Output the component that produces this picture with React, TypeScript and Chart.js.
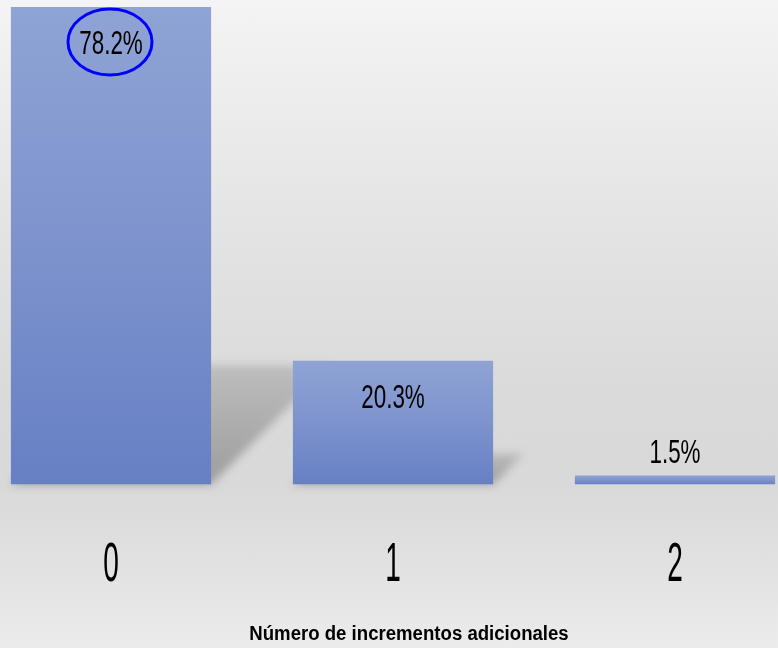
import React, { useEffect, useRef } from "react";
import { Chart, registerables } from "chart.js";

Chart.register(...registerables);

const categories = ["0", "1", "2"];
const percentValues = [78.2, 20.3, 1.5];
const valueLabels = ["78.2%", "20.3%", "1.5%"];
const axisTitle = "Número de incrementos adicionales";
const highlightedIndex = 0;

const FONT = "'Liberation Sans', Arial, sans-serif";

const shadowPlugin = {
  id: "barShadow",
  beforeDatasetsDraw(chart: any) {
    const ctx = chart.ctx;
    const meta = chart.getDatasetMeta(0);
    meta.data.forEach((el: any) => {
      const left = el.x - el.width / 2;
      const right = el.x + el.width / 2;
      const bottom = el.base;
      const h = el.base - el.y;
      const t = h * 0.25;
      if (t < 3) return;
      ctx.save();
      ctx.filter = "blur(4px)";
      const g = ctx.createLinearGradient(0, bottom, 0, bottom - t);
      g.addColorStop(0, "rgba(60,60,60,0.38)");
      g.addColorStop(1, "rgba(60,60,60,0.18)");
      ctx.fillStyle = g;
      ctx.beginPath();
      ctx.moveTo(left, bottom);
      ctx.lineTo(right, bottom);
      ctx.lineTo(right + t, bottom - t);
      ctx.lineTo(left + t, bottom - t);
      ctx.closePath();
      ctx.fill();
      ctx.restore();
    });
  },
};

function drawSquished(ctx: any, text: string, x: number, y: number, font: string, sx: number) {
  ctx.save();
  ctx.translate(x, y);
  ctx.scale(sx, 1);
  ctx.font = font;
  ctx.fillStyle = "#000000";
  ctx.textAlign = "center";
  ctx.textBaseline = "alphabetic";
  ctx.fillText(text, 0, 0);
  ctx.restore();
}

const labelPlugin = {
  id: "valueLabels",
  afterDatasetsDraw(chart: any) {
    const ctx = chart.ctx;
    const meta = chart.getDatasetMeta(0);
    meta.data.forEach((el: any, i: number) => {
      const h = el.base - el.y;
      const baseline = h > 50 ? el.y + 47 : el.y - 12;
      drawSquished(ctx, valueLabels[i], el.x, baseline, `33px ${FONT}`, 0.68);
      if (i === highlightedIndex) {
        ctx.save();
        ctx.strokeStyle = "#0000ff";
        ctx.lineWidth = 3;
        ctx.beginPath();
        ctx.ellipse(el.x - 1, baseline - 12, 42, 33, 0, 0, Math.PI * 2);
        ctx.stroke();
        ctx.restore();
      }
    });
  },
  afterDraw(chart: any) {
    const ctx = chart.ctx;
    const xs = chart.scales.x;
    const area = chart.chartArea;
    xs.ticks.forEach((t: any, i: number) => {
      const x = xs.getPixelForTick(i);
      const label = xs.getLabelForValue(t.value);
      drawSquished(ctx, String(label), x, area.bottom + 96, `56px ${FONT}`, 0.5);
    });
    const cx = (area.left + area.right) / 2 + 16;
    drawSquished(ctx, axisTitle, cx, chart.height - 8, `bold 20px ${FONT}`, 0.93);
  },
};

export default function App() {
  const canvasRef = useRef<HTMLCanvasElement | null>(null);

  useEffect(() => {
    const canvas = canvasRef.current;
    if (!canvas) return;
    const chart = new Chart(canvas, {
      type: "bar",
      data: {
        labels: categories,
        datasets: [
          {
            data: percentValues,
            backgroundColor: (c: any) => {
              const chartObj = c.chart;
              const y = chartObj.scales && chartObj.scales.y;
              if (!chartObj.chartArea || !y || c.raw === undefined) return "#7f94cd";
              const top = y.getPixelForValue(c.raw);
              const bot = y.getPixelForValue(0);
              if (!isFinite(top) || !isFinite(bot) || bot - top < 1) return "#7a90cb";
              const g = chartObj.ctx.createLinearGradient(0, top, 0, bot);
              g.addColorStop(0, "#8fa3d5");
              g.addColorStop(0.5, "#7e93cd");
              g.addColorStop(1, "#6680c4");
              return g;
            },
            borderWidth: 0,
            barPercentage: 0.71,
            categoryPercentage: 1,
          },
        ],
      },
      options: {
        animation: false,
        responsive: true,
        maintainAspectRatio: false,
        layout: { padding: { top: 0, left: 0, right: 0, bottom: 81 } },
        plugins: {
          legend: { display: false },
          tooltip: { enabled: false },
        },
        scales: {
          y: {
            display: false,
            min: 0,
            max: 79.35,
          },
          x: {
            grid: { display: false, drawTicks: false },
            border: { display: false },
            ticks: {
              padding: 10,
              color: "rgba(0,0,0,0)",
              font: { family: FONT, size: 52 },
            },
            title: { display: false },
          },
        },
      },
      plugins: [shadowPlugin, labelPlugin],
    });
    return () => chart.destroy();
  }, []);

  return (
    <div
      style={{
        position: "fixed",
        left: 0,
        top: 0,
        width: 778,
        height: 648,
        overflow: "hidden",
        background:
          "linear-gradient(to bottom, #f4f4f4 0%, #e6e6e6 30%, #dadada 60%, #d9d9d9 75%, #e2e2e2 88%, #ececec 100%)",
      }}
    >
      <div style={{ position: "absolute", left: -30, top: 0, width: 846, height: 648 }}>
        <canvas ref={canvasRef} />
      </div>
    </div>
  );
}
